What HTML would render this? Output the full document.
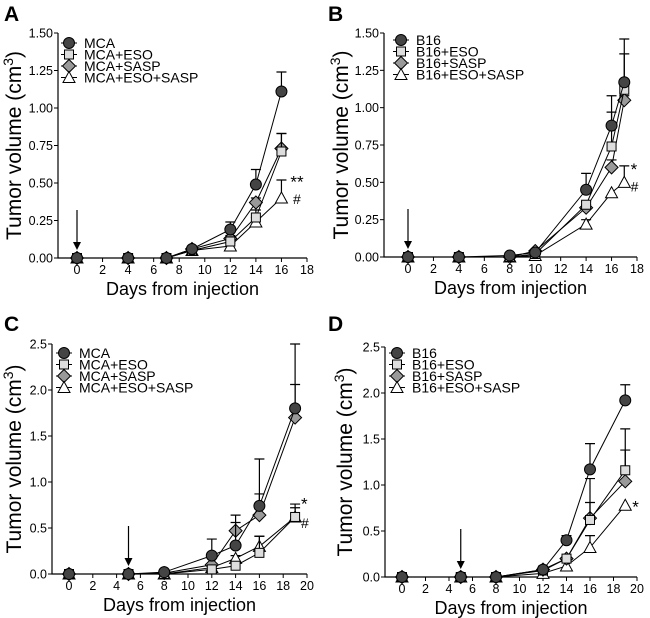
<!DOCTYPE html>
<html><head><meta charset="utf-8"><style>
html,body{margin:0;padding:0;background:#fff;}
svg{display:block;font-family:"Liberation Sans",Arial,sans-serif;}
</style></head><body>
<svg id="fig" width="650" height="618" viewBox="0 0 650 618"></svg>
<script>
// ---- Panel A data ----
const daysA = [0,4,7,9,12,14,16];
const mcaA = [0,0,0,0.06,0.19,0.49,1.11];
const mcaAErr = [0,0,0,0,0.05,0.10,0.13];
const mcaEsoA = [0,0,0,0.05,0.11,0.27,0.71];
const mcaEsoAErr = [0,0,0,0,0.03,0.05,0.12];
const mcaSaspA = [0,0,0,0.06,0.13,0.37,0.73];
const mcaSaspAErr = [0,0,0,0,0.02,0.03,0.10];
const mcaEsoSaspA = [0,0,0,0.05,0.08,0.24,0.40];
const mcaEsoSaspAErr = [0,0,0,0,0.02,0.03,0.12];
// ---- Panel B data ----
const daysB = [0,4,8,10,14,16,17];
const b16B = [0,0,0.01,0.03,0.45,0.88,1.17];
const b16BErr = [0,0,0,0,0.11,0.20,0.29];
const b16EsoB = [0,0,0,0.02,0.35,0.74,1.12];
const b16EsoBErr = [0,0,0,0,0.02,0.23,0.24];
const b16SaspB = [0,0,0,0.04,0.33,0.60,1.05];
const b16SaspBErr = [0,0,0,0,0.02,0.05,0.03];
const b16EsoSaspB = [0,0,0,0.01,0.22,0.43,0.50];
const b16EsoSaspBErr = [0,0,0,0,0.03,0,0.11];
// ---- Panel C data ----
const daysC = [0,5,8,12,14,16,19];
const mcaC = [0,0,0.02,0.20,0.31,0.74,1.80];
const mcaCErr = [0,0,0,0.18,0.25,0.51,0.70];
const mcaEsoC = [0,0,0,0.05,0.09,0.23,0.62];
const mcaEsoCErr = [0,0,0,0,0,0.18,0.14];
const mcaSaspC = [0,0,0.01,0.10,0.47,0.64,1.70];
const mcaSaspCErr = [0,0,0,0,0.17,0.23,0.36];
const mcaEsoSaspC = [0,0,0,0.07,0.17,0.30,0.62];
const mcaEsoSaspCErr = [0,0,0,0,0.03,0.11,0.10];
// ---- Panel D data ----
const daysD = [0,5,8,12,14,16,19];
const b16D = [0,0,0,0.08,0.40,1.17,1.92];
const b16DErr = [0,0,0,0,0.05,0.28,0.17];
const b16EsoD = [0,0,0,0.07,0.20,0.62,1.16];
const b16EsoDErr = [0,0,0,0,0,0.45,0.45];
const b16SaspD = [0,0,0,0.08,0.20,0.64,1.04];
const b16SaspDErr = [0,0,0,0,0,0.17,0.34];
const b16EsoSaspD = [0,0,0,0.04,0.12,0.32,0.78];
const b16EsoSaspDErr = [0,0,0,0,0,0.13,0];
// ticks
const xTicksAB = [0,2,4,6,8,10,12,14,16,18];
const xTicksCD = [0,2,4,6,8,10,12,14,16,18,20];
const yTicksAB = ["0.00","0.25","0.50","0.75","1.00","1.25","1.50"];
const yTicksCD = ["0.0","0.5","1.0","1.5","2.0","2.5"];

const NS="http://www.w3.org/2000/svg";
const svg=document.getElementById('fig');
function mk(tag,attrs,parent){const e=document.createElementNS(NS,tag);for(const k in attrs)e.setAttribute(k,attrs[k]);(parent||svg).appendChild(e);return e;}

const styles={
 circle:{fill:"#444"}, square:{fill:"#ddd"}, diamond:{fill:"#999"}, triangle:{fill:"#fff"}
};
function marker(g,type,x,y){
 const s=5.5;let e;
 if(type==='circle')e=mk('circle',{cx:x,cy:y,r:s,fill:styles.circle.fill,stroke:'#000','stroke-width':1},g);
 else if(type==='square')e=mk('rect',{x:x-4.5,y:y-4.5,width:9,height:9,fill:styles.square.fill,stroke:'#000','stroke-width':1},g);
 else if(type==='diamond')e=mk('polygon',{points:`${x},${y-6.5} ${x+6.5},${y} ${x},${y+6.5} ${x-6.5},${y}`,fill:styles.diamond.fill,stroke:'#000','stroke-width':1},g);
 else e=mk('polygon',{points:`${x},${y-6} ${x+6},${y+5} ${x-6},${y+5}`,fill:'#fff',stroke:'#000','stroke-width':1},g);
 return e;
}

function panel(cfg){
 const g=mk('g',{});
 
 
 const X=v=>cfg.x0+(v-0)*(cfg.x1-cfg.x0)/cfg.xmax;
 const Y=v=>cfg.y0-v*(cfg.y0-cfg.y1)/cfg.ymax;
 const lab=mk('text',{x:cfg.lx,y:cfg.ly,'font-size':21,'font-weight':'bold'},g);lab.textContent=cfg.label;
 
 
 const ax=mk('path',{d:`M${cfg.ax},${Y(cfg.ymax)}V${cfg.y0}H${X(cfg.xmax)}`,stroke:'#000',fill:'none','stroke-width':1.2},g);
 
 
 cfg.xt.forEach(t=>{
  mk('line',{x1:X(t),x2:X(t),y1:cfg.y0,y2:cfg.y0+4,stroke:'#000'},g);
  const tx=mk('text',{x:X(t),y:cfg.y0+16,'font-size':12.5,'text-anchor':'middle'},g);tx.textContent=t;
  
  
 });
 cfg.yt.forEach(t=>{
  const v=parseFloat(t);
  mk('line',{x1:cfg.ax-4,x2:cfg.ax,y1:Y(v),y2:Y(v),stroke:'#000'},g);
  const tx=mk('text',{x:cfg.ax-5,y:Y(v)+4.5,'font-size':12.5,'text-anchor':'end'},g);tx.textContent=t;
  
  
 });
 const xt=mk('text',{x:(cfg.ax+X(cfg.xmax))/2,y:cfg.y0+37,'font-size':18,'text-anchor':'middle'},g);xt.textContent='Days from injection';
 
 
 const cy=(cfg.y0+Y(cfg.ymax))/2;
 const yt=mk('text',{x:cfg.ytx,y:cy,'font-size':21,'text-anchor':'middle',transform:`rotate(-90 ${cfg.ytx} ${cy})`},g);
 yt.innerHTML='Tumor volume (cm<tspan dy="-8" font-size="14">3</tspan><tspan dy="8">)</tspan>';
 
 
 const a=mk('g',{},g);
 
 
 const axp=X(cfg.arrow);
 mk('line',{x1:axp,x2:axp,y1:cfg.y0-48,y2:cfg.y0-12,stroke:'#000','stroke-width':1.2},a);
 mk('polygon',{points:`${axp-4},${cfg.y0-16} ${axp+4},${cfg.y0-16} ${axp},${cfg.y0-8}`,fill:'#000'},a);
 const order=[3,2,1,0];
 order.forEach(i=>{
  const s=cfg.series[i];
  const sg=mk('g',{},g);
  
  
  s.v.forEach((v,j)=>{const e=s.e[j];if(e>0){const x=X(cfg.days[j]),y=Y(v),yt=Y(v+e);
   const eb=mk('path',{d:`M${x},${y}V${yt}M${x-5},${yt}H${x+5}`,stroke:'#000',fill:'none','stroke-width':1.2},sg);
   
   }});
  const pts=s.v.map((v,j)=>X(cfg.days[j])+','+Y(v)).join(' ');
  const pl=mk('polyline',{points:pts,fill:'none',stroke:'#000','stroke-width':1},sg);
  
  
  s.v.forEach((v,j)=>{const m=marker(sg,s.type,X(cfg.days[j]),Y(v));
   
   });
 });
 cfg.ann.forEach(an=>{const t=mk('text',{x:X(an.x),y:Y(an.y),'font-size':an.fs||15},g);t.textContent=an.t;
  
  });
 const lg=mk('g',{},g);
 
 
 cfg.series.forEach((s,i)=>{
  const y=cfg.legY+i*11.5;
  const e=mk('g',{},lg);
  
  
  mk('line',{x1:cfg.legX-8,x2:cfg.legX+8,y1:y,y2:y,stroke:'#000'},e);
  marker(e,s.type,cfg.legX,y);
  const t=mk('text',{x:cfg.legX+15,y:y+5,'font-size':14},e);t.textContent=s.name;
 });
}

panel({label:'A',lx:4,ly:21,x0:77,x1:307,xmax:18,y0:258,y1:33,ymax:1.5,ax:58,ytx:21,
 xt:xTicksAB,yt:yTicksAB,days:daysA,arrow:0,legX:69,legY:43,
 series:[{name:'MCA',type:'circle',v:mcaA,e:mcaAErr},{name:'MCA+ESO',type:'square',v:mcaEsoA,e:mcaEsoAErr},
  {name:'MCA+SASP',type:'diamond',v:mcaSaspA,e:mcaSaspAErr},{name:'MCA+ESO+SASP',type:'triangle',v:mcaEsoSaspA,e:mcaEsoSaspAErr}],
 ann:[{x:16.7,y:0.47,t:'**',fs:17},{x:16.9,y:0.36,t:'#',fs:14}]});
panel({label:'B',lx:328,ly:21,x0:408,x1:637,xmax:18,y0:257,y1:33,ymax:1.5,ax:384,ytx:348,
 xt:xTicksAB,yt:yTicksAB,days:daysB,arrow:0,legX:401,legY:40,
 series:[{name:'B16',type:'circle',v:b16B,e:b16BErr},{name:'B16+ESO',type:'square',v:b16EsoB,e:b16EsoBErr},
  {name:'B16+SASP',type:'diamond',v:b16SaspB,e:b16SaspBErr},{name:'B16+ESO+SASP',type:'triangle',v:b16EsoSaspB,e:b16EsoSaspBErr}],
 ann:[{x:17.5,y:0.55,t:'*',fs:17},{x:17.5,y:0.44,t:'#',fs:14}]});
panel({label:'C',lx:4,ly:331,x0:69,x1:307,xmax:20,y0:574,y1:344,ymax:2.5,ax:52,ytx:21,
 xt:xTicksCD,yt:yTicksCD,days:daysC,arrow:5,legX:64,legY:353,
 series:[{name:'MCA',type:'circle',v:mcaC,e:mcaCErr},{name:'MCA+ESO',type:'square',v:mcaEsoC,e:mcaEsoCErr},
  {name:'MCA+SASP',type:'diamond',v:mcaSaspC,e:mcaSaspCErr},{name:'MCA+ESO+SASP',type:'triangle',v:mcaEsoSaspC,e:mcaEsoSaspCErr}],
 ann:[{x:19.5,y:0.70,t:'*',fs:17},{x:19.5,y:0.50,t:'#',fs:14}]});
panel({label:'D',lx:328,ly:331,x0:402,x1:637,xmax:20,y0:577,y1:347,ymax:2.5,ax:385,ytx:352,
 xt:xTicksCD,yt:yTicksCD,days:daysD,arrow:5,legX:397,legY:353,
 series:[{name:'B16',type:'circle',v:b16D,e:b16DErr},{name:'B16+ESO',type:'square',v:b16EsoD,e:b16EsoDErr},
  {name:'B16+SASP',type:'diamond',v:b16SaspD,e:b16SaspDErr},{name:'B16+ESO+SASP',type:'triangle',v:b16EsoSaspD,e:b16EsoSaspDErr}],
 ann:[{x:19.6,y:0.70,t:'*',fs:17}]});
</script>
</body></html>
